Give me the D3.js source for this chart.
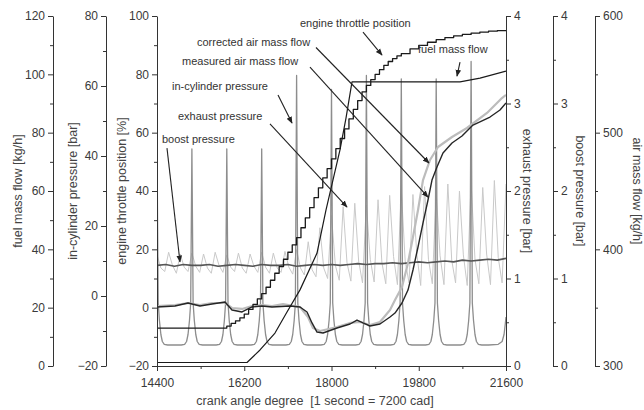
<!DOCTYPE html>
<html>
<head>
<meta charset="utf-8">
<script src="https://cdnjs.cloudflare.com/ajax/libs/d3/7.8.5/d3.min.js"></script>
<style>
body { margin: 0; background: #fff; }
svg { font-family: "Liberation Sans", Arial, sans-serif; }
.axis text { font-size: 12px; fill: #3a3a3a; }
.axis path, .axis line { stroke: #333; }
.title { font-size: 12.5px; fill: #444; }
.note { font-size: 11px; fill: #333; }
</style>
</head>
<body>
<div id="chart"></div>
<script>
// ticks
const cadTicks = [14400, 16200, 18000, 19800, 21600]
const cadMinor = [15300, 17100, 18900, 20700]
const fuelTicks = [0, 20, 40, 60, 80, 100, 120]
const fuelMinor = [10, 30, 50, 70, 90, 110]
const cylTicks = [-20, 0, 20, 40, 60, 80]
const cylMinor = [-10, 10, 30, 50, 70]
const throttleTicks = [-20, 0, 20, 40, 60, 80, 100]
const throttleMinor = [-10, 10, 30, 50, 70, 90]
const barTicks = [0, 1, 2, 3, 4]
const barMinor = [0.5, 1.5, 2.5, 3.5]
const airTicks = [300, 400, 500, 600]
const airMinor = [350, 450, 550]

// engine throttle position [%]
const throttleCad = [14400, 15750, 15840, 15930, 16020, 16110, 16200, 16290, 16380, 16470, 16560,
  16650, 16740, 16830, 16920, 17010, 17100, 17190, 17280, 17370, 17460, 17550, 17640, 17730, 17820,
  17910, 18000, 18090, 18180, 18270, 18360, 18450, 18540, 18630, 18720, 18810, 18900, 18990, 19080,
  19170, 19260, 19350, 19440, 19620, 19800, 19980, 20160, 20340, 20520, 20700, 20880, 21060, 21240,
  21420, 21600]
const throttleVal = [-7.0, -7.0, -6.3, -5.4, -4.5, -3.5, -2.2, -0.6, 1.1, 3.0, 4.8,
  7.0, 9.4, 11.8, 14.1, 16.6, 19.0, 21.5, 24.0, 27.4, 30.8, 34.3, 37.7, 41.1, 44.5,
  47.7, 51.0, 54.5, 58.0, 61.3, 64.7, 68.0, 71.0, 74.0, 76.2, 78.2, 80.0, 81.6, 83.1,
  84.4, 85.4, 86.3, 87.1, 88.7, 89.9, 91.0, 91.9, 92.6, 93.2, 93.7, 94.1, 94.5, 94.8,
  95.0, 95.2]

// fuel mass flow [kg/h]
const fuelCad = [14400, 16257, 16525, 16834, 17082, 17350, 17701, 17887, 18031, 18175, 18299, 18423, 20651, 21064, 21600]
const fuelVal = [1.2, 1.2, 5.5, 11.3, 18.5, 26.1, 38.7, 53.5, 63.8, 74.1, 85.0, 97.4, 97.4, 98.7, 101.1]

// in-cylinder pressure [bar]: one cycle shape around each firing TDC
const cylTdc = [14400, 15120, 15840, 16560, 17280, 18000, 18720, 19440, 20160, 20880]
const cylPeak = [42, 42, 42, 42, 63, 59, 63, 62, 62, 67]
const cylShapeOffset = [-360, -220, -150, -110, -80, -50, -25, 0, 25, 50, 80, 110, 150, 220]
const cylShapeValue = [-14, -14, -13.8, -13, -11, -7, -2, null, -2, -7, -11, -13, -13.8, -14]
const cylTailCad = [21240, 21440, 21520, 21560, 21585, 21600]
const cylTailVal = [-14, -13.8, -13, -11, -8, -6]

// exhaust pressure [bar]
const exhaustStart = 14400, exhaustStep = 80
const exhaustVal = [1.27, 1.12, 1.08, 1.30, 1.15, 1.06, 1.28, 1.13, 1.08, 1.29,
  1.14, 1.07, 1.28, 1.12, 1.06, 1.30, 1.15, 1.07, 1.27, 1.13,
  1.08, 1.29, 1.12, 1.06, 1.28, 1.14, 1.07, 1.30, 1.13, 1.06,
  1.29, 1.12, 1.07, 1.31, 1.13, 1.05, 1.33, 1.12, 1.04, 1.42,
  1.10, 1.02, 1.58, 1.12, 1.00, 1.72, 1.15, 0.98, 1.82, 1.18,
  0.97, 1.86, 1.20, 0.95, 1.84, 1.22, 0.96, 1.90, 1.18, 0.94,
  1.95, 1.25, 0.93, 2.02, 1.20, 0.95, 1.96, 1.28, 0.92, 2.05,
  1.22, 0.94, 1.98, 1.26, 0.93, 2.08, 1.21, 0.95, 2.00, 1.27,
  0.92, 2.10, 1.22, 0.94, 2.04, 1.28, 0.93, 2.12, 1.24, 0.95, 2.08]

// boost pressure [bar]
const boostStart = 14400, boostStep = 180
const boostVal = [1.15, 1.16, 1.14, 1.16, 1.15, 1.15, 1.16, 1.14, 1.15, 1.16,
  1.15, 1.14, 1.16, 1.15, 1.15, 1.16, 1.14, 1.15, 1.16, 1.15,
  1.16, 1.15, 1.16, 1.17, 1.16, 1.17, 1.17, 1.18, 1.17, 1.18,
  1.19, 1.18, 1.19, 1.20, 1.19, 1.21, 1.20, 1.21, 1.22, 1.21, 1.23]

// air mass flow [kg/h]
const airMeasCad = [14400, 14771, 15040, 15287, 15535, 15803, 15947, 16154, 16360, 16566, 16773, 17144, 17350,
  17495, 17598, 17701, 17825, 18113, 18382, 18526, 18650, 18794, 19000, 19207, 19310, 19454, 19578,
  19681, 19785, 19888, 19991, 20073, 20176, 20300, 20486, 20692, 20919, 21270, 21476, 21600]
const airMeasVal = [350.6, 351.4, 354.0, 351.4, 353.1, 354.9, 348.0, 346.3, 350.6, 351.4, 350.6, 351.4, 350.6,
  346.3, 336.9, 329.1, 328.3, 332.6, 336.0, 339.4, 336.9, 334.3, 336.0, 342.0, 345.4, 354.0, 365.1,
  382.3, 402.0, 422.6, 442.3, 459.4, 470.6, 482.6, 491.1, 497.1, 506.5, 513.4, 519.4, 525.4]
const airCorrCad = [14400, 14771, 15040, 15287, 15535, 15803, 15947, 16154, 16360, 16566, 16773, 17000, 17350,
  17515, 17618, 17763, 18113, 18382, 18588, 18794, 19000, 19207, 19310, 19454, 19578, 19681, 19785,
  19888, 20032, 20197, 20486, 20795, 21208, 21517, 21600]
const airCorrVal = [351.4, 352.3, 354.0, 352.3, 354.0, 354.0, 349.7, 348.9, 351.4, 352.3, 351.4, 353.1, 350.6,
  342.0, 332.6, 330.0, 333.4, 336.9, 337.7, 335.1, 337.7, 348.0, 356.6, 367.7, 388.3, 410.6, 433.7,
  459.4, 476.6, 487.7, 496.3, 504.0, 516.9, 529.7, 532.3]

// annotations, placed in crank angle / throttle % units
const notes = [
  { text: "engine throttle position", x: 17350, y: 96.3, from: [18650, 94.5], to: [19042, 86.6] },
  { text: "corrected air mass flow", x: 15225, y: 89.8, from: [17680, 89.2], to: [20011, 49.6] },
  { text: "measured air mass flow", x: 14916, y: 83.3, from: [17556, 82.5], to: [19991, 37.9] },
  { text: "in-cylinder pressure", x: 14709, y: 74.7, from: [16896, 72.9], to: [17185, 63.3] },
  { text: "exhaust pressure", x: 14833, y: 64.4, from: [16731, 63.0], to: [18320, 34.5] },
  { text: "boost pressure", x: 14503, y: 56.5, from: [14606, 54.7], to: [14874, 15.7] },
  { text: "fuel mass flow", x: 19784, y: 87.4, from: [20651, 84.2], to: [20589, 79.4] }
]

const W = 644, H = 410
const M = { LEFT: 157, RIGHT: 506, TOP: 16, BOTTOM: 366 }

const svg = d3.select("#chart").append("svg")
  .attr("width", W)
  .attr("height", H)

svg.append("rect").attr("width", W).attr("height", H).attr("fill", "#fff")

const defs = svg.append("defs")
defs.append("clipPath").attr("id", "plot")
  .append("rect")
  .attr("x", M.LEFT).attr("y", M.TOP)
  .attr("width", M.RIGHT - M.LEFT).attr("height", M.BOTTOM - M.TOP)
defs.append("marker")
  .attr("id", "arrow")
  .attr("viewBox", "0 0 10 10")
  .attr("refX", 9).attr("refY", 5)
  .attr("markerWidth", 7).attr("markerHeight", 7)
  .attr("markerUnits", "userSpaceOnUse")
  .attr("orient", "auto")
  .append("path")
  .attr("d", "M0,1 L10,5 L0,9 Z")
  .attr("fill", "#222")

// scales
const x = d3.scaleLinear().domain([14400, 21600]).range([M.LEFT, M.RIGHT])
const yFuel = d3.scaleLinear().domain([0, 120]).range([M.BOTTOM, M.TOP])
const yCyl = d3.scaleLinear().domain([-20, 80]).range([M.BOTTOM, M.TOP])
const yThrottle = d3.scaleLinear().domain([-20, 100]).range([M.BOTTOM, M.TOP])
const yExhaust = d3.scaleLinear().domain([0, 4]).range([M.BOTTOM, M.TOP])
const yBoost = d3.scaleLinear().domain([0, 4]).range([M.BOTTOM, M.TOP])
const yAir = d3.scaleLinear().domain([300, 600]).range([M.BOTTOM, M.TOP])

// series
const series = svg.append("g").attr("clip-path", "url(#plot)")

function drawLine(points, yScale, color, width, curve) {
  series.append("path")
    .datum(points)
    .attr("fill", "none")
    .attr("stroke", color)
    .attr("stroke-width", width)
    .attr("stroke-linejoin", "round")
    .attr("d", d3.line()
      .x(d => x(d[0]))
      .y(d => yScale(d[1]))
      .curve(curve || d3.curveLinear))
}

const exhaustPts = exhaustVal.map((v, i) => [exhaustStart + i * exhaustStep, v])
const boostPts = boostVal.map((v, i) => [boostStart + i * boostStep, v])
const cylPts = []
cylTdc.forEach((tdc, i) => {
  cylShapeOffset.forEach((off, j) => {
    cylPts.push([tdc + off, cylShapeValue[j] === null ? cylPeak[i] : cylShapeValue[j]])
  })
})
cylTailCad.forEach((c, i) => cylPts.push([c, cylTailVal[i]]))

drawLine(exhaustPts, yExhaust, "#c9c9c9", 1)
drawLine(cylPts, yCyl, "#8d8d8d", 1.3)
drawLine(boostPts, yBoost, "#555", 1.6)
drawLine(airCorrCad.map((c, i) => [c, airCorrVal[i]]), yAir, "#bcbcbc", 2.2)
drawLine(airMeasCad.map((c, i) => [c, airMeasVal[i]]), yAir, "#262626", 1.4)
drawLine(fuelCad.map((c, i) => [c, fuelVal[i]]), yFuel, "#1a1a1a", 1.2)
drawLine(throttleCad.map((c, i) => [c, throttleVal[i]]), yThrottle, "#1a1a1a", 1.3, d3.curveStepAfter)

// axes
function drawAxis(axis, minor, tx, ty, pad) {
  const g = svg.append("g").attr("class", "axis")
    .attr("transform", `translate(${tx}, ${ty})`)
  g.call(axis.tickSize(5).tickSizeOuter(0).tickPadding(pad || 3).tickFormat(d3.format("d")))
  g.append("g").call(axis.tickValues(minor).tickSize(3).tickFormat(""))
    .select(".domain").remove()
  return g
}

drawAxis(d3.axisLeft(yFuel).tickValues(fuelTicks), fuelMinor, 53, 0)
drawAxis(d3.axisLeft(yCyl).tickValues(cylTicks), cylMinor, 106, 0)
drawAxis(d3.axisLeft(yThrottle).tickValues(throttleTicks), throttleMinor, M.LEFT, 0)
drawAxis(d3.axisRight(yExhaust).tickValues(barTicks), barMinor, M.RIGHT, 0)
drawAxis(d3.axisRight(yBoost).tickValues(barTicks), barMinor, 553, 0)
drawAxis(d3.axisRight(yAir).tickValues(airTicks), airMinor, 595, 0)
drawAxis(d3.axisBottom(x).tickValues(cadTicks), cadMinor, 0, M.BOTTOM, 7)

// axis titles
const titles = [
  { text: "fuel mass flow [kg/h]", x: 18, rot: -90 },
  { text: "in-cylinder pressure [bar]", x: 73, rot: -90 },
  { text: "engine throttle position [%]", x: 122, rot: -90 },
  { text: "exhaust pressure [bar]", x: 527, rot: 90 },
  { text: "boost pressure [bar]", x: 580, rot: 90 },
  { text: "air mass flow [kg/h]", x: 637, rot: 90 }
]
titles.forEach(t => {
  svg.append("text")
    .attr("class", "title")
    .attr("transform", `translate(${t.x}, 191) rotate(${t.rot})`)
    .attr("text-anchor", "middle")
    .attr("dy", "0.35em")
    .text(t.text)
})

svg.append("text")
  .attr("class", "title")
  .attr("x", 315)
  .attr("y", 405)
  .attr("text-anchor", "middle")
  .attr("xml:space", "preserve")
  .text("crank angle degree  [1 second = 7200 cad]")

// annotations
const ann = svg.append("g")
notes.forEach(n => {
  ann.append("text")
    .attr("class", "note")
    .attr("x", x(n.x))
    .attr("y", yThrottle(n.y))
    .text(n.text)
  ann.append("line")
    .attr("x1", x(n.from[0])).attr("y1", yThrottle(n.from[1]))
    .attr("x2", x(n.to[0])).attr("y2", yThrottle(n.to[1]))
    .attr("stroke", "#222")
    .attr("stroke-width", 1.1)
    .attr("marker-end", "url(#arrow)")
})
</script>
</body>
</html>
